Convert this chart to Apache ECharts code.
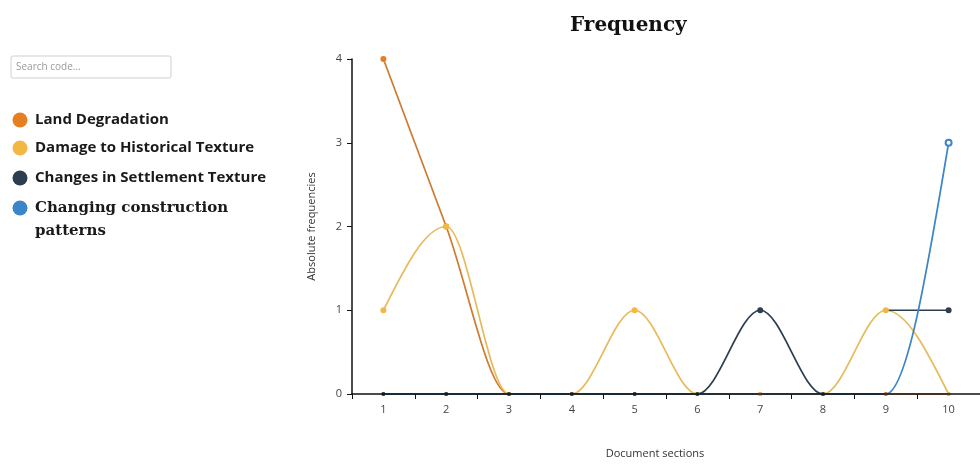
<!DOCTYPE html>
<html>
<head>
<meta charset="utf-8">
<script src="https://cdn.jsdelivr.net/npm/echarts@6/dist/echarts.min.js"></script>
<style>
html,body{margin:0;padding:0;background:#fff;}
#chart{width:980px;height:464px;}
</style>
</head>
<body>
<div id="chart"></div>
<script>
// ---- data ----
const sections = ['1','2','3','4','5','6','7','8','9','10'];
const seriesNames = ['Land Degradation','Damage to Historical Texture','Changes in Settlement Texture','Changing construction patterns'];
const landDegradation = [4,2,0,0,0,0,0,0,0,0];
const historicalTexture = [1,2,0,0,1,0,0,0,1,0];
const settlementTexture = [0,0,0,0,0,0,1,0,0,0];
const settlementTextureTail = [null,null,null,null,null,null,null,null,1,1];
const constructionPatterns = [0,0,0,0,0,0,0,0,0,3];
const yTicks = [0,1,2,3,4];
const colors = ['#e67e22','#f3b844','#2c3e50','#3a86c8'];
const lineColors = ['#cf7a30','#e6bb5c','#2c3e50','#3d85c6'];

const chart = echarts.init(document.getElementById('chart'));

// monotone-x tangents (per contiguous run of non-null values)
function tangents(ys) {
  const t = ys.map(() => null);
  const sgn = v => v < 0 ? -1 : 1;
  let i = 0;
  while (i < ys.length) {
    if (ys[i] == null) { i++; continue; }
    let j = i;
    while (j + 1 < ys.length && ys[j + 1] != null) j++;
    const n = j - i + 1;
    if (n >= 2) {
      for (let k = i + 1; k < j; k++) {
        const s0 = ys[k] - ys[k - 1], s1 = ys[k + 1] - ys[k], p = (s0 + s1) / 2;
        t[k] = (sgn(s0) + sgn(s1)) * Math.min(Math.abs(s0), Math.abs(s1), 0.5 * Math.abs(p)) || 0;
      }
      if (n === 2) { t[i] = t[j] = ys[j] - ys[i]; }
      else {
        t[i] = (3 * (ys[i + 1] - ys[i]) - t[i + 1]) / 2;
        t[j] = (3 * (ys[j] - ys[j - 1]) - t[j - 1]) / 2;
      }
    }
    i = j + 1;
  }
  return t;
}

function curveSeries(name, ys, color) {
  const t = tangents(ys);
  const segs = [];
  for (let k = 0; k + 1 < ys.length; k++) if (ys[k] != null && ys[k + 1] != null) segs.push([k, ys[k], k + 1, ys[k + 1]]);
  return {
    name, type: 'custom', data: segs, silent: true, z: 2,
    encode: {x: [0, 2], y: [1, 3]},
    renderItem: (params, api) => {
      const k = api.value(0);
      const a = api.coord([k, ys[k]]);
      const b = api.coord([k + 1, ys[k + 1]]);
      const dx = (b[0] - a[0]) / 3;
      const c1 = api.coord([k, ys[k] + t[k] / 3]);
      const c2 = api.coord([k + 1, ys[k + 1] - t[k + 1] / 3]);
      return {
        type: 'bezierCurve',
        shape: {x1: a[0], y1: a[1], x2: b[0], y2: b[1], cpx1: a[0] + dx, cpy1: c1[1], cpx2: b[0] - dx, cpy2: c2[1]},
        style: {stroke: color, fill: null, lineWidth: 1.7}
      };
    }
  };
}

function markerSeries(name, ys, color, hollowLast) {
  return {
    name, type: 'line', data: ys, z: 3,
    lineStyle: {opacity: 0, width: 0},
    symbol: (v, p) => (hollowLast && p.dataIndex === ys.length - 1) ? 'emptyCircle' : 'circle',
    symbolSize: v => v === 0 ? 4 : 6,
    itemStyle: {color: color, opacity: 1},
    color: color
  };
}

const legendRows = [
  {name: seriesNames[0], y: 120, font: 'bold 15px "Open Sans"'},
  {name: seriesNames[1], y: 148, font: 'bold 15px "Open Sans"'},
  {name: seriesNames[2], y: 178, font: 'bold 15px "Open Sans"'},
  {name: 'Changing construction\npatterns', y: 208, font: 'bold 15px "DejaVu Serif"', lh: 23}
];
const legendGraphics = [];
legendRows.forEach((r, i) => {
  legendGraphics.push({type:'circle', shape:{cx:20, cy:r.y, r:7.5}, style:{fill:colors[i]}});
  legendGraphics.push({type:'text', x:35, y:r.y - (r.lh ? r.lh/2 : 0), style:{
    text:r.name, font:r.font, fill:'#1a1a1a', verticalAlign: r.lh ? 'top' : 'middle',
    lineHeight: r.lh || 18
  }});
});

const option = {
  animation: false,
  backgroundColor: '#fff',
  title: {
    text: 'Frequency', left: 565, top: 11,
    textStyle: {fontFamily:'DejaVu Serif', fontWeight:'bold', fontSize:20, color:'#111'}
  },
  graphic: [
    {type:'rect', shape:{x:11, y:56, width:160, height:22, r:2}, style:{fill:'#fff', stroke:'#cfcfcf', lineWidth:1}},
    {type:'text', x:16, y:67, style:{text:'Search code...', font:'10px "Open Sans"', fill:'#9a9a9a', verticalAlign:'middle'}}
  ].concat(legendGraphics),
  grid: {left: 352, top: 59, width: 636, height: 336, containLabel: false},
  xAxis: {
    type: 'category', data: sections, boundaryGap: true, z: 10,
    name: 'Document sections', nameLocation: 'middle', nameGap: 54,
    nameTextStyle: {fontSize: 11, color: '#333', fontFamily: 'Open Sans', padding: [0, 22, 0, 0]},
    axisLine: {lineStyle: {color: '#111', width: 1.5}},
    axisTick: {show: true, length: 5, lineStyle: {color: '#111'}},
    axisLabel: {fontSize: 11, color: '#444', margin: 10, fontFamily: 'Open Sans'},
    splitLine: {show: false}
  },
  yAxis: {
    type: 'value', min: 0, max: 4, interval: 1,
    name: 'Absolute frequencies', nameLocation: 'middle', nameGap: 35, nameRotate: 90,
    nameTextStyle: {fontSize: 11, color: '#333', fontFamily: 'Open Sans'},
    axisLine: {show: true, lineStyle: {color: '#111', width: 1.5}},
    axisTick: {show: true, length: 5, lineStyle: {color: '#111'}},
    axisLabel: {fontSize: 11, color: '#444', margin: 10, fontFamily: 'Open Sans',
      formatter: v => yTicks.includes(v) ? String(v) : ''},
    splitLine: {show: false}
  },
  series: [
    curveSeries(seriesNames[0], landDegradation, lineColors[0]),
    curveSeries(seriesNames[1], historicalTexture, lineColors[1]),
    curveSeries(seriesNames[2], settlementTexture.slice(0, 9), lineColors[2]),
    curveSeries(seriesNames[2], settlementTextureTail, lineColors[2]),
    curveSeries(seriesNames[3], constructionPatterns, lineColors[3]),
    markerSeries(seriesNames[3], constructionPatterns, colors[3], true),
    markerSeries(seriesNames[0], landDegradation, colors[0]),
    markerSeries(seriesNames[1], historicalTexture, colors[1]),
    markerSeries(seriesNames[2], settlementTexture.slice(0, 8), colors[2]),
    markerSeries(seriesNames[2], settlementTextureTail.map((v, i) => i === 9 ? v : null), colors[2])
  ]
};
chart.setOption(option);
</script>
</body>
</html>
